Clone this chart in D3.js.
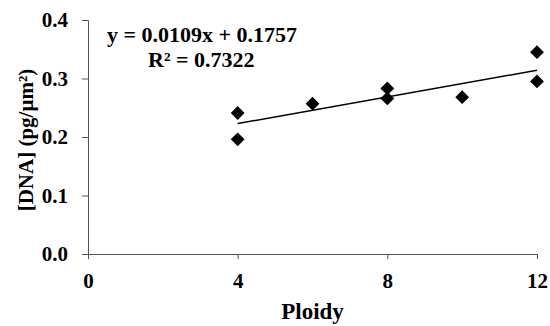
<!DOCTYPE html>
<html>
<head>
<meta charset="utf-8">
<script src="https://cdn.jsdelivr.net/npm/d3@7"></script>
<style>
  html, body { margin: 0; padding: 0; background: #fff; }
  svg text { font-family: "Liberation Serif", "Times New Roman", serif; font-weight: bold; fill: #000; }
</style>
</head>
<body>
<div id="chart"></div>
<script>
// data
const ploidy = [4, 4, 6, 8, 8, 10, 12, 12];
const dna = [0.241, 0.196, 0.257, 0.283, 0.266, 0.268, 0.345, 0.295];
const xTicks = [0, 4, 8, 12];
const yTicks = [0, 0.1, 0.2, 0.3, 0.4];
// linear trendline endpoints (as drawn)
const trendX = [4, 12];
const trendY = [0.223, 0.314];
const eqText = "y = 0.0109x + 0.1757";
const r2Text = "R² = 0.7322";

const W = 550, H = 326;
const margin = { top: 20, right: 13, bottom: 72, left: 88 };
const width = W - margin.left - margin.right;
const height = H - margin.top - margin.bottom;

const svg = d3.select('#chart')
  .append('svg')
  .attr('width', W)
  .attr('height', H)
  .append('g')
  .attr('transform', `translate(${margin.left},${margin.top})`);

const x = d3.scaleLinear().domain([0, 12]).range([0, width]);
const y = d3.scaleLinear().domain([0, 0.4]).range([height, 0]);

// X axis
const xAxis = svg.append('g')
  .attr('transform', `translate(0,${height})`)
  .call(d3.axisBottom(x).tickValues(xTicks).tickSize(5).tickPadding(14).tickFormat(d3.format('d')));
xAxis.selectAll('text').style('font-size', '21px');
xAxis.select('.domain').attr('stroke', '#555');
xAxis.selectAll('line').attr('stroke', '#555');

// Y axis
const yAxis = svg.append('g')
  .call(d3.axisLeft(y).tickValues(yTicks).tickSize(6).tickPadding(14).tickFormat(d3.format('.1f')));
yAxis.selectAll('text').style('font-size', '21px');
yAxis.select('.domain').attr('stroke', '#555');
yAxis.selectAll('line').attr('stroke', '#555');

// Axis titles
svg.append('text')
  .attr('x', width / 2)
  .attr('y', height + 65)
  .attr('text-anchor', 'middle')
  .style('font-size', '23px')
  .text('Ploidy');

svg.append('text')
  .attr('transform', `translate(${-margin.left + 33},120) rotate(-90)`)
  .attr('text-anchor', 'middle')
  .style('font-size', '21px')
  .text('[DNA] (pg/µm²)');

// Trendline
const pts = trendX.map((d, i) => [d, trendY[i]]);
svg.append('path')
  .datum(pts)
  .attr('fill', 'none')
  .attr('stroke', '#000')
  .attr('stroke-width', 1.5)
  .attr('d', d3.line().x(d => x(d[0])).y(d => y(d[1])));

// Diamonds
const diamond = d3.symbol().type(d3.symbolSquare).size(95);
svg.selectAll('.dot')
  .data(ploidy.map((p, i) => ({ p, v: dna[i] })))
  .enter().append('path')
  .attr('class', 'dot')
  .attr('d', diamond)
  .attr('fill', '#000')
  .attr('transform', d => `translate(${x(d.p)},${y(d.v)}) rotate(45)`);

// Equation
svg.append('text')
  .attr('x', 19)
  .attr('y', 22)
  .style('font-size', '22px')
  .text(eqText);
svg.append('text')
  .attr('x', 60)
  .attr('y', 47)
  .style('font-size', '22px')
  .text(r2Text);
</script>
</body>
</html>
